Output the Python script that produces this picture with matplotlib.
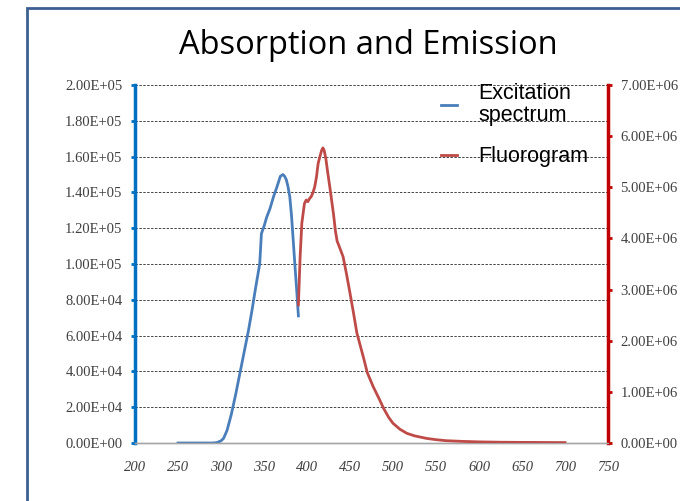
import matplotlib
matplotlib.use('Agg')
import matplotlib.pyplot as plt
from matplotlib.lines import Line2D
from matplotlib.patches import Rectangle
from matplotlib.ticker import FuncFormatter, MultipleLocator

# excitation spectrum (left axis)
ex_wl = [250, 260, 270, 280, 290, 295, 300, 303, 307, 312, 317, 322, 327, 332,
         336, 340, 345, 347, 350, 353, 357, 361, 365, 369, 372, 374, 376, 378,
         380, 382, 384, 386, 388, 390]
ex_val = [0, 0, 0, 0, 0, 200, 1200, 2600, 7000, 16000, 27000, 39000, 51000,
          63000, 74000, 86000, 100000, 117000, 121000, 126000, 131000, 137500,
          143000, 149000, 150000, 149000, 147000, 143000, 137500, 127000,
          113000, 99000, 85500, 71000]

# fluorogram (right axis)
fl_wl = [390, 392, 394, 397, 399, 401, 403, 405, 407, 409, 411, 413, 415, 417,
         418.5, 420, 422, 424, 426.5, 429, 431, 433, 435, 438, 442, 446, 450,
         454, 458, 462, 466, 470, 477, 484, 489, 495, 500, 508, 516, 525, 539,
         550, 562, 580, 600, 625, 650, 675, 700]
fl_val = [2.70e6, 3.64e6, 4.30e6, 4.68e6, 4.75e6, 4.72e6, 4.78e6, 4.82e6,
          4.90e6, 5.01e6, 5.20e6, 5.47e6, 5.60e6, 5.72e6, 5.77e6, 5.72e6,
          5.55e6, 5.30e6, 5.01e6, 4.70e6, 4.45e6, 4.15e6, 3.95e6, 3.82e6,
          3.64e6, 3.30e6, 2.93e6, 2.55e6, 2.15e6, 1.90e6, 1.65e6, 1.38e6,
          1.10e6, 0.86e6, 0.68e6, 0.50e6, 0.385e6, 0.27e6, 0.19e6, 0.14e6,
          0.09e6, 0.065e6, 0.045e6, 0.032e6, 0.022e6, 0.015e6, 0.012e6,
          0.010e6, 0.008e6]

labels = ['Excitation\nspectrum', 'Fluorogram']

BLUE = '#4A7EBB'
RED = '#BE4B48'
TICK_COLOR = '#404040'
serif = 'Liberation Serif'

fig = plt.figure(figsize=(6.8, 5.01), dpi=100)
fig.patches.append(Rectangle((27 / 680, -0.1), 1.0, 1.1 - 8 / 501,
                             transform=fig.transFigure, fill=False,
                             edgecolor='#3C6090', linewidth=2))

ax = fig.add_axes([135 / 680, 1 - 443 / 501, 473 / 680, 358 / 501])
ax2 = ax.twinx()

ax.plot(ex_wl, ex_val, color=BLUE, lw=2, zorder=3)
ax2.plot(fl_wl, fl_val, color=RED, lw=2, zorder=3)

ax.set_xlim(200, 750)
ax.set_ylim(0, 2e5)
ax2.set_ylim(0, 7e6)
ax.xaxis.set_major_locator(MultipleLocator(50))
ax.yaxis.set_major_locator(MultipleLocator(2e4))
ax2.yaxis.set_major_locator(MultipleLocator(1e6))

sci = FuncFormatter(lambda v, p: f'{v:.2E}')
ax.yaxis.set_major_formatter(sci)
ax2.yaxis.set_major_formatter(sci)

ax.grid(axis='y', color='#444444', linestyle=(0, (2.5, 1.5)), linewidth=0.7)
ax.set_axisbelow(True)

for a in (ax, ax2):
    a.spines['top'].set_visible(False)
    a.spines['bottom'].set_color('#A6A6A6')
    a.spines['bottom'].set_linewidth(1)
ax.spines['right'].set_visible(False)
ax2.spines['left'].set_visible(False)
ax.spines['left'].set_color('#0070C0')
ax.spines['left'].set_linewidth(2.5)
ax2.spines['right'].set_color('#C00000')
ax2.spines['right'].set_linewidth(2.5)

ax.tick_params(axis='y', direction='out', length=3, width=2, color='#0070C0',
               pad=6, labelsize=10.5, labelcolor=TICK_COLOR)
ax2.tick_params(axis='y', direction='out', length=3, width=2, color='#C00000',
                pad=6, labelsize=10.5, labelcolor=TICK_COLOR)
ax.tick_params(axis='x', length=0, pad=13, labelsize=10.5, labelcolor=TICK_COLOR)
for t in ax.get_yticklabels() + ax2.get_yticklabels():
    t.set_fontfamily(serif)
for t in ax.get_xticklabels():
    t.set_fontfamily(serif)
    t.set_fontstyle('italic')

fig.text(368 / 680, 1 - 46 / 501, 'Absorption and Emission', ha='center',
         va='center', fontsize=23.5, family='Open Sans')

handles = [Line2D([], [], color=BLUE, lw=2), Line2D([], [], color=RED, lw=2)]
leg = ax2.legend(handles, labels, loc='upper left', frameon=False,
                 bbox_to_anchor=(441 / 680, 1 - 83 / 501),
                 bbox_transform=fig.transFigure,
                 prop={'family': 'Liberation Sans', 'size': 15.5},
                 handlelength=0.75, handletextpad=1.0, labelspacing=0.95,
                 borderaxespad=0, borderpad=0)
for t in leg.get_texts():
    t.set_linespacing(1.05)

fig.savefig('out.png', dpi=100)
